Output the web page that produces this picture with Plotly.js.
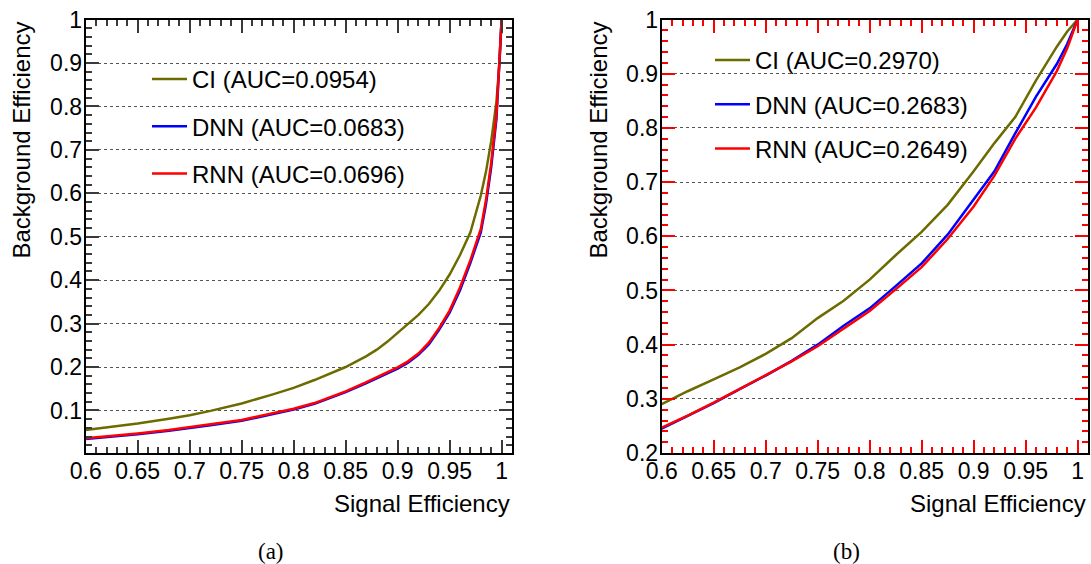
<!DOCTYPE html>
<html>
<head>
<meta charset="utf-8">
<script src="https://cdn.plot.ly/plotly-3.0.1.min.js"></script>
<style>html,body{margin:0;padding:0;background:#fff;}#chart{width:1091px;height:564px;}</style>
</head>
<body>
<div id="chart"></div>
<script>
// ---- Panel (a) data ----
const sigEffA = [0.6, 0.62, 0.65, 0.68, 0.7, 0.72, 0.75, 0.78, 0.8, 0.82, 0.85, 0.87, 0.88, 0.89, 0.9, 0.91, 0.92, 0.93, 0.94, 0.95, 0.96, 0.97, 0.975, 0.98, 0.985, 0.99, 0.995, 0.998, 1.0];
const ciA  = [0.055, 0.061, 0.070, 0.081, 0.089, 0.099, 0.116, 0.137, 0.152, 0.170, 0.200, 0.225, 0.240, 0.258, 0.278, 0.298, 0.320, 0.345, 0.376, 0.413, 0.458, 0.510, 0.550, 0.595, 0.650, 0.720, 0.810, 0.900, 1.0];
const dnnA = [0.034, 0.038, 0.045, 0.053, 0.059, 0.066, 0.076, 0.091, 0.102, 0.115, 0.142, 0.163, 0.174, 0.184, 0.196, 0.210, 0.228, 0.252, 0.286, 0.325, 0.377, 0.440, 0.475, 0.510, 0.575, 0.660, 0.770, 0.900, 1.0];
const rnnA = [0.036, 0.040, 0.047, 0.055, 0.061, 0.068, 0.078, 0.093, 0.104, 0.117, 0.144, 0.165, 0.176, 0.187, 0.199, 0.213, 0.231, 0.256, 0.290, 0.330, 0.383, 0.446, 0.482, 0.518, 0.585, 0.670, 0.780, 0.905, 1.0];

// ---- Panel (b) data ----
const sigEffB = [0.6, 0.625, 0.65, 0.675, 0.7, 0.725, 0.75, 0.775, 0.8, 0.825, 0.85, 0.875, 0.9, 0.92, 0.94, 0.96, 0.98, 0.99, 1.0];
const ciB  = [0.290, 0.314, 0.336, 0.358, 0.383, 0.412, 0.449, 0.481, 0.520, 0.565, 0.608, 0.658, 0.720, 0.772, 0.820, 0.888, 0.950, 0.978, 1.0];
const dnnB = [0.245, 0.268, 0.292, 0.318, 0.343, 0.370, 0.400, 0.435, 0.467, 0.508, 0.550, 0.603, 0.667, 0.720, 0.790, 0.858, 0.918, 0.955, 1.0];
const rnnB = [0.247, 0.269, 0.293, 0.318, 0.343, 0.369, 0.397, 0.430, 0.462, 0.502, 0.543, 0.595, 0.655, 0.712, 0.780, 0.838, 0.905, 0.947, 1.0];

// ---- Legend labels ----
const namesA = ['CI (AUC=0.0954)', 'DNN (AUC=0.0683)', 'RNN (AUC=0.0696)'];
const namesB = ['CI (AUC=0.2970)', 'DNN (AUC=0.2683)', 'RNN (AUC=0.2649)'];
const colors = ['#6b6b00', '#0000ff', '#ff0000'];

// ---- Tick labels ----
const xTickVals = [0.6, 0.65, 0.7, 0.75, 0.8, 0.85, 0.9, 0.95, 1];
const xTickText = ['0.6', '0.65', '0.7', '0.75', '0.8', '0.85', '0.9', '0.95', '1'];
const yTickValsA = [0.1, 0.2, 0.3, 0.4, 0.5, 0.6, 0.7, 0.8, 0.9, 1];
const yTickTextA = ['0.1', '0.2', '0.3', '0.4', '0.5', '0.6', '0.7', '0.8', '0.9', '1'];
const yTickValsB = [0.2, 0.3, 0.4, 0.5, 0.6, 0.7, 0.8, 0.9, 1];
const yTickTextB = ['0.2', '0.3', '0.4', '0.5', '0.6', '0.7', '0.8', '0.9', '1'];

const FONT = 'Liberation Sans, Arial, sans-serif';
const ysA = [ciA, dnnA, rnnA], ysB = [ciB, dnnB, rnnB];
const traces = [];
for (let i = 0; i < 3; i++) traces.push({x: sigEffA, y: ysA[i], type: 'scatter', mode: 'lines', name: namesA[i], line: {color: colors[i], width: 2.5}, xaxis: 'x', yaxis: 'y', legend: 'legend', legendgroup: 'a' + i});
for (let i = 0; i < 3; i++) traces.push({x: sigEffB, y: ysB[i], type: 'scatter', mode: 'lines', name: namesB[i], line: {color: colors[i], width: 2.5}, xaxis: 'x2', yaxis: 'y2', legend: 'legend2', legendgroup: 'b' + i});

const W = 1091, H = 564;
const px = v => v / W, py = v => 1 - v / H;
const yDom = [py(453), py(19.6)];
const xDomA = [px(85.7), px(512)], xDomB = [px(661.7), px(1088)];
const xRange = [0.6, 1.01], yRangeA = [0.002, 1], yRangeB = [0.2, 1];
const MAJ = 13, MIN = 6.5;

// panel (a): dark tick colour; panel (b): red ticks (to check what draws)
function xAxis(domain, anchor, tc, tw) {
  return {domain: domain, anchor: anchor, range: xRange, tickmode: 'array', tickvals: xTickVals, ticktext: xTickText,
    ticks: 'inside', ticklen: MAJ, tickwidth: tw, tickcolor: tc,
    minor: {tickmode: 'linear', tick0: 0, dtick: 0.01, ticks: 'inside', ticklen: MIN, tickwidth: tw, tickcolor: tc},
    showline: true, linecolor: '#000', linewidth: 2, mirror: 'allticks', showgrid: false, zeroline: false,
    tickfont: {family: FONT, size: 23, color: '#000'}, ticklabelstandoff: -4};
}
function yAxis(domain, anchor, range, vals, text, tc, tw) {
  return {domain: domain, anchor: anchor, range: range, tickmode: 'array', tickvals: vals, ticktext: text,
    ticks: 'inside', ticklen: MAJ, tickwidth: tw, tickcolor: tc,
    minor: {tickmode: 'linear', tick0: 0, dtick: 0.02, ticks: 'inside', ticklen: MIN, tickwidth: tw, tickcolor: tc},
    showline: true, linecolor: '#000', linewidth: 2, mirror: 'allticks',
    showgrid: true, gridcolor: '#555', griddash: 'dot', gridwidth: 1, zeroline: false,
    tickfont: {family: FONT, size: 23, color: '#000'}, ticklabelstandoff: -3};
}

function legend(xpx, ypx, gap) {
  return {x: px(xpx), y: py(ypx), xanchor: 'left', yanchor: 'top', bgcolor: 'rgba(0,0,0,0)', borderwidth: 0,
    font: {family: FONT, size: 24, color: '#000'}, traceorder: 'grouped', tracegroupgap: gap, itemwidth: 35};
}
const titleFont = {family: FONT, size: 24, color: '#000'};
const capFont = {family: 'Liberation Serif, Times New Roman, serif', size: 23, color: '#000'};
const layout = {
  width: W, height: H, margin: {l: 0, r: 0, t: 0, b: 0}, paper_bgcolor: '#fff', plot_bgcolor: '#fff', showlegend: true,
  xaxis: xAxis(xDomA, 'y', '#3a3a3a', 2),
  yaxis: yAxis(yDom, 'x', yRangeA, yTickValsA, yTickTextA, '#3a3a3a', 2),
  xaxis2: xAxis(xDomB, 'y2', 'red', 2),
  yaxis2: yAxis(yDom, 'x2', yRangeB, yTickValsB, yTickTextB, 'red', 2),
  legend: legend(147, 57, 13),
  legend2: legend(710, 38, 10),
  annotations: [
    {text: 'Signal Efficiency', xref: 'paper', yref: 'paper', x: px(512), y: py(503), xanchor: 'right', yanchor: 'middle', showarrow: false, font: titleFont},
    {text: 'Signal Efficiency', xref: 'paper', yref: 'paper', x: px(1088), y: py(503), xanchor: 'right', yanchor: 'middle', showarrow: false, font: titleFont},
    {text: 'Background Efficiency', xref: 'paper', yref: 'paper', x: px(21), y: py(20), xanchor: 'center', yanchor: 'top', textangle: -90, showarrow: false, font: titleFont},
    {text: 'Background Efficiency', xref: 'paper', yref: 'paper', x: px(598), y: py(20), xanchor: 'center', yanchor: 'top', textangle: -90, showarrow: false, font: titleFont},
    {text: '(a)', xref: 'paper', yref: 'paper', x: px(271), y: py(551), xanchor: 'center', yanchor: 'middle', showarrow: false, font: capFont},
    {text: '(b)', xref: 'paper', yref: 'paper', x: px(846), y: py(551), xanchor: 'center', yanchor: 'middle', showarrow: false, font: capFont}
  ]
};
Plotly.newPlot('chart', traces, layout, {displayModeBar: false});
</script>
</body>
</html>
